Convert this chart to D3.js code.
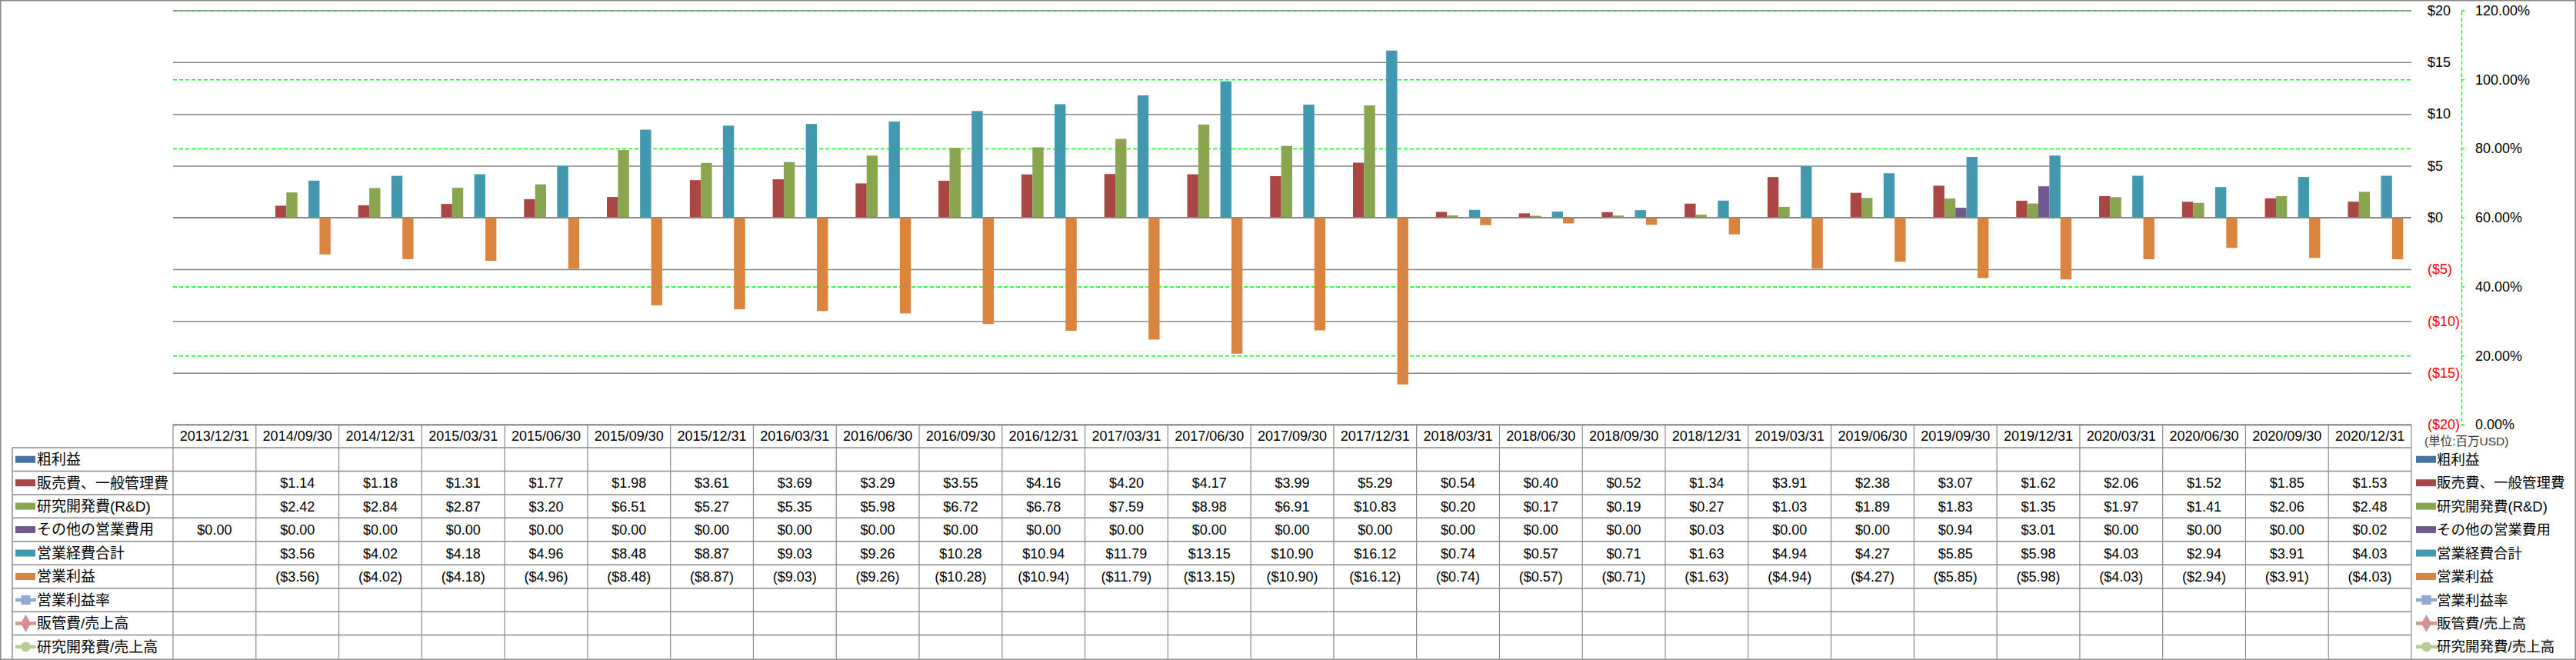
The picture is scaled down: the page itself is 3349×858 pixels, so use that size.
<!DOCTYPE html>
<html>
<head>
<meta charset="utf-8">
<script src="https://cdn.jsdelivr.net/npm/d3@7"></script>
<style>
  body { margin: 0; background: #fff; }
  text { font-family: "Liberation Sans", "Noto Sans CJK JP", sans-serif; }
</style>
</head>
<body>
<div id="chart"></div>
<script>
var svgWidth = 3349;
var svgHeight = 858;

// plot area
var plotLeft = 225, plotRight = 3135, plotTop = 13.5, plotBottom = 552;
// data table rows
var tableTop = 552, headerHeight = 30, rowHeight = 30.45, labelLeft = 16;

var categories = ["2013/12/31", "2014/09/30", "2014/12/31", "2015/03/31", "2015/06/30", "2015/09/30",
    "2015/12/31", "2016/03/31", "2016/06/30", "2016/09/30", "2016/12/31", "2017/03/31", "2017/06/30",
    "2017/09/30", "2017/12/31", "2018/03/31", "2018/06/30", "2018/09/30", "2018/12/31", "2019/03/31",
    "2019/06/30", "2019/09/30", "2019/12/31", "2020/03/31", "2020/06/30", "2020/09/30", "2020/12/31"];

var grossProfit = categories.map(function() { return null; });
var sga = [null, 1.14, 1.18, 1.31, 1.77, 1.98, 3.61, 3.69, 3.29, 3.55, 4.16, 4.20, 4.17, 3.99, 5.29,
    0.54, 0.40, 0.52, 1.34, 3.91, 2.38, 3.07, 1.62, 2.06, 1.52, 1.85, 1.53];
var rnd = [null, 2.42, 2.84, 2.87, 3.20, 6.51, 5.27, 5.35, 5.98, 6.72, 6.78, 7.59, 8.98, 6.91, 10.83,
    0.20, 0.17, 0.19, 0.27, 1.03, 1.89, 1.83, 1.35, 1.97, 1.41, 2.06, 2.48];
var otherOpex = [0.00, 0.00, 0.00, 0.00, 0.00, 0.00, 0.00, 0.00, 0.00, 0.00, 0.00, 0.00, 0.00, 0.00, 0.00,
    0.00, 0.00, 0.00, 0.03, 0.00, 0.00, 0.94, 3.01, 0.00, 0.00, 0.00, 0.02];
var totalOpex = [null, 3.56, 4.02, 4.18, 4.96, 8.48, 8.87, 9.03, 9.26, 10.28, 10.94, 11.79, 13.15, 10.90, 16.12,
    0.74, 0.57, 0.71, 1.63, 4.94, 4.27, 5.85, 5.98, 4.03, 2.94, 3.91, 4.03];
var opIncome = [null, -3.56, -4.02, -4.18, -4.96, -8.48, -8.87, -9.03, -9.26, -10.28, -10.94, -11.79, -13.15, -10.90, -16.12,
    -0.74, -0.57, -0.71, -1.63, -4.94, -4.27, -5.85, -5.98, -4.03, -2.94, -3.91, -4.03];
var opMargin = categories.map(function() { return null; });
var sgaRatio = categories.map(function() { return null; });
var rndRatio = categories.map(function() { return null; });

var dollarTicks = [-20, -15, -10, -5, 0, 5, 10, 15, 20];
var pctTicks = [0, 0.2, 0.4, 0.6, 0.8, 1.0, 1.2];

var barSeries = [
    { name: "粗利益", values: grossProfit, color: "#4572A7" },
    { name: "販売費、一般管理費", values: sga, color: "#AA4643" },
    { name: "研究開発費(R&D)", values: rnd, color: "#89A54E" },
    { name: "その他の営業費用", values: otherOpex, color: "#71588F" },
    { name: "営業経費合計", values: totalOpex, color: "#4198AF" },
    { name: "営業利益", values: opIncome, color: "#DB843D" }
];
var lineSeries = [
    { name: "営業利益率", values: opMargin, color: "#93A9CF", marker: "square" },
    { name: "販管費/売上高", values: sgaRatio, color: "#D19392", marker: "diamond" },
    { name: "研究開発費/売上高", values: rndRatio, color: "#B9CD96", marker: "circle" }
];
var allSeries = barSeries.concat(lineSeries);

var svg = d3.select("#chart").append("svg")
    .attr("width", svgWidth)
    .attr("height", svgHeight);

// scales
var xScale = d3.scaleBand().domain(categories).range([plotLeft, plotRight]).padding(0);
var seriesScale = d3.scaleBand().domain(barSeries.map(function(s) { return s.name; }))
    .range([0, xScale.bandwidth()]).paddingInner(0).paddingOuter(0.75);
var yScale = d3.scaleLinear().domain([-20, 20]).range([plotBottom, plotTop]);
var pctScale = d3.scaleLinear().domain([0, 1.2]).range([plotBottom, plotTop]);

// secondary gridlines (green dashed)
var pctGrid = svg.append("g")
    .attr("transform", "translate(" + plotLeft + ",0)")
    .call(d3.axisLeft(pctScale).tickValues(pctTicks).tickSize(-(plotRight - plotLeft)).tickFormat(""));
pctGrid.select(".domain").remove();
pctGrid.selectAll("line").attr("stroke", "#00FF00").attr("stroke-width", 1.3).attr("stroke-dasharray", "5,3");

// primary gridlines
var grid = svg.append("g")
    .attr("transform", "translate(" + plotLeft + ",0)")
    .call(d3.axisLeft(yScale).tickValues(dollarTicks).tickSize(-(plotRight - plotLeft)).tickFormat(""));
grid.select(".domain").remove();
grid.selectAll("line").attr("stroke", "#868686").attr("stroke-width", 1.5);

// bars
barSeries.forEach(function(s) {
    svg.append("g").selectAll("rect")
        .data(categories.map(function(c, i) { return { cat: c, v: s.values[i] }; })
            .filter(function(d) { return d.v !== null && d.v !== 0; }))
        .enter().append("rect")
        .attr("x", function(d) { return xScale(d.cat) + seriesScale(s.name); })
        .attr("width", seriesScale.bandwidth())
        .attr("y", function(d) { return yScale(Math.max(0, d.v)); })
        .attr("height", function(d) { return Math.abs(yScale(d.v) - yScale(0)); })
        .attr("fill", s.color);
});

// zero line over bars
svg.append("line")
    .attr("x1", plotLeft).attr("x2", plotRight)
    .attr("y1", yScale(0)).attr("y2", yScale(0))
    .attr("stroke", "#868686").attr("stroke-width", 1.5);

// primary axis labels
function dollarFmt(v) { return v < 0 ? "($" + Math.abs(v) + ")" : "$" + v; }
var yAxis = svg.append("g")
    .attr("transform", "translate(3156,0)")
    .call(d3.axisRight(yScale).tickValues(dollarTicks).tickSize(0).tickPadding(0).tickFormat(dollarFmt));
yAxis.select(".domain").remove();
yAxis.selectAll("text")
    .attr("font-size", "18px")
    .attr("font-family", "Liberation Sans, sans-serif")
    .attr("fill", function(d) { return d < 0 ? "#FF0000" : "#000"; });

// secondary axis
var pctAxis = svg.append("g")
    .attr("transform", "translate(3200,0)")
    .call(d3.axisRight(pctScale).tickValues(pctTicks).tickSize(4).tickPadding(14)
        .tickFormat(function(d) { return (d * 100).toFixed(2) + "%"; }));
pctAxis.select(".domain").attr("stroke", "#00FF00").attr("stroke-width", 1.3).attr("stroke-dasharray", "5,3");
pctAxis.selectAll("line").attr("stroke", "#00FF00").attr("stroke-width", 1.3);
pctAxis.selectAll("text")
    .attr("font-size", "18px")
    .attr("font-family", "Liberation Sans, sans-serif")
    .attr("fill", "#000");

svg.append("text")
    .attr("x", 3152).attr("y", 574)
    .attr("dy", "0.35em")
    .attr("font-size", "15.5px")
    .attr("fill", "#333")
    .text("(単位:百万USD)");

// data table
var table = svg.append("g");
var tableBottom = tableTop + headerHeight + rowHeight * allSeries.length;
var lineColor = "#8A8A8A";

table.append("line")
    .attr("x1", plotLeft).attr("x2", plotRight)
    .attr("y1", tableTop).attr("y2", tableTop)
    .attr("stroke", lineColor).attr("stroke-width", 1.5);
allSeries.forEach(function(s, i) {
    var yy = tableTop + headerHeight + rowHeight * i;
    table.append("line")
        .attr("x1", labelLeft).attr("x2", plotRight)
        .attr("y1", yy).attr("y2", yy)
        .attr("stroke", lineColor).attr("stroke-width", 1.5);
});
table.append("line")
    .attr("x1", labelLeft).attr("x2", labelLeft)
    .attr("y1", tableTop + headerHeight).attr("y2", tableBottom)
    .attr("stroke", lineColor).attr("stroke-width", 1.5);
categories.concat(["end"]).forEach(function(c, i) {
    var xx = i < categories.length ? xScale(c) : plotRight;
    table.append("line")
        .attr("x1", xx).attr("x2", xx)
        .attr("y1", tableTop).attr("y2", tableBottom)
        .attr("stroke", lineColor).attr("stroke-width", 1.2);
});

// header dates
table.selectAll(".hdr").data(categories).enter().append("text")
    .attr("x", function(d) { return xScale(d) + xScale.bandwidth() / 2; })
    .attr("y", tableTop + headerHeight / 2)
    .attr("dy", "0.36em")
    .attr("text-anchor", "middle")
    .attr("font-size", "18px")
    .text(function(d) { return d; });

function valueFmt(v) {
    return v < 0 ? "($" + Math.abs(v).toFixed(2) + ")" : "$" + v.toFixed(2);
}

// legend key drawer
function drawKey(g, s, x, cy) {
    if (!s.marker) {
        g.append("rect").attr("x", x).attr("y", cy - 4.5).attr("width", 26).attr("height", 9).attr("fill", s.color);
    } else {
        g.append("line").attr("x1", x).attr("x2", x + 27).attr("y1", cy).attr("y2", cy)
            .attr("stroke", s.color).attr("stroke-width", 4.5);
        var sym = s.marker === "square" ? d3.symbolSquare : (s.marker === "diamond" ? d3.symbolDiamond : d3.symbolCircle);
        var size = s.marker === "square" ? 150 : (s.marker === "diamond" ? 150 : 130);
        g.append("path").attr("d", d3.symbol().type(sym).size(size)())
            .attr("transform", "translate(" + (x + 13.5) + "," + cy + ")")
            .attr("fill", s.color);
    }
}

allSeries.forEach(function(s, i) {
    var cy = tableTop + headerHeight + rowHeight * i + rowHeight / 2;
    // row label
    drawKey(table, s, 20, cy);
    table.append("text")
        .attr("x", 48).attr("y", cy).attr("dy", "0.36em")
        .attr("font-size", "19px")
        .text(s.name);
    // values
    table.append("g").selectAll("text")
        .data(categories.map(function(c, j) { return { cat: c, v: s.values[j] }; })
            .filter(function(d) { return d.v !== null; }))
        .enter().append("text")
        .attr("x", function(d) { return xScale(d.cat) + xScale.bandwidth() / 2; })
        .attr("y", cy).attr("dy", "0.36em")
        .attr("text-anchor", "middle")
        .attr("font-size", "18px")
        .text(function(d) { return valueFmt(d.v); });
    // right legend
    drawKey(svg, s, 3141, cy);
    svg.append("text")
        .attr("x", 3168).attr("y", cy).attr("dy", "0.36em")
        .attr("font-size", "18.5px")
        .text(s.name);
});

// chart border
svg.append("rect")
    .attr("x", 0.75).attr("y", 0.75)
    .attr("width", svgWidth - 1.5).attr("height", svgHeight - 1.5)
    .attr("fill", "none").attr("stroke", "#888").attr("stroke-width", 1.5);
</script>
</body>
</html>
